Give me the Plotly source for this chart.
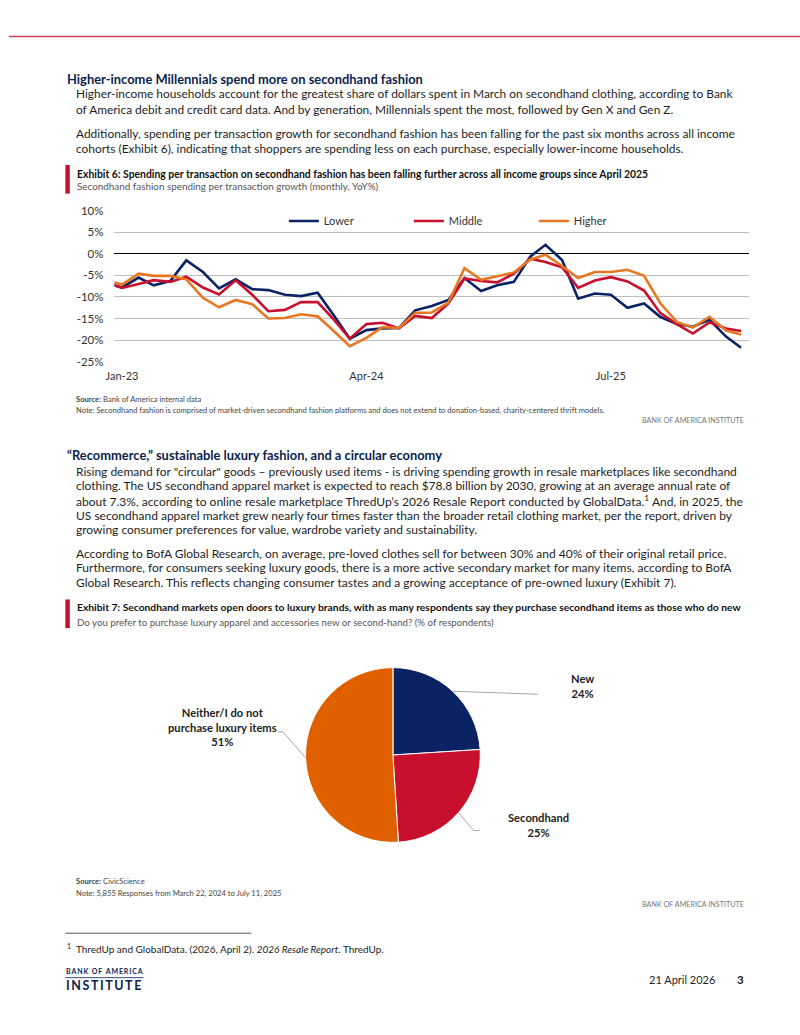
import numpy as np
import pandas as pd
import plotly.graph_objects as go

W, H = 800, 1035

# ---- Exhibit 6 data (monthly YoY %, Dec-22 .. Mar-26) ----
months = pd.date_range("2022-12-01", "2026-03-01", freq="MS")
lower = [-6.7, -7.8, -5.5, -7.3, -6.3, -1.5, -4.2, -8.0, -5.9, -8.2,
         -8.4, -9.5, -9.8, -9.0, -14.4, -19.7, -17.7, -17.3, -17.2, -13.1,
         -12.1, -10.7, -5.6, -8.6, -7.3, -6.5, -0.6, 2.1, -1.4, -10.4,
         -9.2, -9.5, -12.5, -11.5, -14.6, -16.3, -16.9, -15.3, -19.2, -21.8]
middle = [-6.6, -7.9, -7.0, -6.1, -6.5, -5.3, -7.8, -9.4, -6.1, -9.5,
          -13.3, -13.0, -11.2, -11.2, -15.4, -19.7, -16.3, -16.0, -17.3, -14.4,
          -14.9, -11.5, -5.7, -6.3, -6.6, -4.6, -1.1, -1.9, -3.1, -7.9,
          -6.2, -5.4, -6.4, -8.5, -13.7, -16.3, -18.5, -15.9, -17.3, -17.9]
higher = [-6.0, -7.1, -4.6, -5.1, -5.1, -5.9, -10.2, -12.4, -10.7, -11.7,
          -15.0, -14.9, -14.0, -14.5, -18.0, -21.4, -19.5, -17.0, -17.2, -13.7,
          -13.6, -11.3, -3.3, -6.0, -5.2, -4.3, -1.3, -0.2, -2.8, -5.6,
          -4.2, -4.2, -3.7, -5.1, -11.4, -15.8, -17.1, -14.6, -17.8, -18.7]
series_names = ["Lower", "Middle", "Higher"]
series_colors = ["#0B2265", "#C8102E", "#E87722"]
x_tickvals = ["2023-01-01", "2024-04-01", "2025-07-01"]
x_ticktext = ["Jan-23", "Apr-24", "Jul-25"]
y_tickvals = [10, 5, 0, -5, -10, -15, -20, -25]
y_ticktext = ["10%", "5%", "0%", "-5%", "-10%", "-15%", "-20%", "-25%"]

# ---- Exhibit 7 data ----
pie_labels = ["New", "Secondhand", "Neither/I do not<br>purchase luxury items"]
pie_values = [24, 25, 51]
pie_colors = ["#0B2265", "#C8102E", "#E06000"]

FONT = "Lato, Roboto, sans-serif"
NAVY = "#0B1F4F"


def px(x):
    return x / W


def py(y):
    return 1 - y / H


annotations = []


def text(x, y, s, size, color="#1E1E1E", xanchor="left"):
    annotations.append(dict(
        x=px(x), y=py(y), xref="paper", yref="paper", text=s, showarrow=False,
        xanchor=xanchor, yanchor="middle", align=xanchor if xanchor != "center" else "center",
        font=dict(size=size, family=FONT, color=color)))


def block(x, y0, step, lines, size, color="#1E1E1E"):
    for i, s in enumerate(lines):
        text(x, y0 + i * step, s, size, color)


fig = go.Figure()

for name, vals, col in zip(series_names, [lower, middle, higher], series_colors):
    fig.add_trace(go.Scatter(x=months, y=vals, name=name, mode="lines",
                             line=dict(color=col, width=2.6)))

# pie, clockwise from 12 o'clock
pie_cx, pie_cy, pie_r = 388.3, 757.5, 88.5
fig.add_trace(go.Pie(
    labels=pie_labels, values=pie_values, sort=False, direction="clockwise",
    rotation=0, textinfo="none", hoverinfo="label+percent", showlegend=False,
    marker=dict(colors=pie_colors, line=dict(color="white", width=1)),
    domain=dict(x=[px(pie_cx - pie_r), px(pie_cx + pie_r)],
                y=[py(pie_cy + pie_r), py(pie_cy - pie_r)])))

# ---- page text ----
text(57, 73, "<b>Higher-income Millennials spend more on secondhand fashion</b>", 12.9, NAVY)
block(66, 88, 15.5, [
    "Higher-income households account for the greatest share of dollars spent in March on secondhand clothing, according to Bank",
    "of America debit and credit card data. And by generation, Millennials spent the most, followed by Gen X and Gen Z.",
], 11.9)
block(66, 128, 15.5, [
    "Additionally, spending per transaction growth for secondhand fashion has been falling for the past six months across all income",
    "cohorts (Exhibit 6), indicating that shoppers are spending less on each purchase, especially lower-income households.",
], 11.9)
text(67, 169, "<b>Exhibit 6: Spending per transaction on secondhand fashion has been falling further across all income groups since April 2025</b>", 10.4, "#111111")
text(67, 181, "Secondhand fashion spending per transaction growth (monthly, YoY%)", 9.9, "#555555")

text(66, 397, "<b>Source:</b> Bank of America internal data", 7.6, "#444444")
text(66, 408, "Note: Secondhand fashion is comprised of market-driven secondhand fashion platforms and does not extend to donation-based, charity-centered thrift models.", 7.6, "#444444")
text(745, 419, "BANK OF AMERICA INSTITUTE", 7.2, "#777777", "right")

text(57, 454, "<b>“Recommerce,” sustainable luxury fashion, and a circular economy</b>", 12.9, NAVY)
block(66, 470, 14.9, [
    "Rising demand for \"circular\" goods – previously used items - is driving spending growth in resale marketplaces like secondhand",
    "clothing. The US secondhand apparel market is expected to reach $78.8 billion by 2030, growing at an average annual rate of",
    "about 7.3%, according to online resale marketplace ThredUp’s 2026 Resale Report conducted by GlobalData.<sup>1</sup> And, in 2025, the",
    "US secondhand apparel market grew nearly four times faster than the broader retail clothing market, per the report, driven by",
    "growing consumer preferences for value, wardrobe variety and sustainability.",
], 12)
block(66, 553, 14.9, [
    "According to BofA Global Research, on average, pre-loved clothes sell for between 30% and 40% of their original retail price.",
    "Furthermore, for consumers seeking luxury goods, there is a more active secondary market for many items, according to BofA",
    "Global Research. This reflects changing consumer tastes and a growing acceptance of pre-owned luxury (Exhibit 7).",
], 12)
text(67, 608, "<b>Exhibit 7: Secondhand markets open doors to luxury brands, with as many respondents say they purchase secondhand items as those who do new</b>", 10.3, "#111111")
text(67, 622.5, "Do you prefer to purchase luxury apparel and accessories new or second-hand? (% of respondents)", 9.7, "#555555")

text(66, 885, "<b>Source:</b> CivicScience", 7.6, "#444444")
text(66, 897, "Note: 5,855 Responses from March 22, 2024 to July 11, 2025", 7.6, "#444444")
text(745, 909, "BANK OF AMERICA INSTITUTE", 7.2, "#777777", "right")

text(57, 953, "<sup>1</sup>  ThredUp and GlobalData. (2026, April 2). <i>2026 Resale Report</i>. ThredUp.", 10)
text(56, 976, "<b>" + "\u2009".join("BANK OF AMERICA") + "</b>", 7, NAVY)
text(56, 991, "<b>" + "\u2009".join("INSTITUTE") + "</b>", 12.5, NAVY)
text(716, 985, "21 April 2026", 11, "#1E1E1E", "right")
text(745, 985, "<b>3</b>", 11.5, "#1E1E1E", "right")

# ---- pie labels with leader lines (anchored at slice mid-angles) ----
total = float(sum(pie_values))
mids = (np.cumsum(pie_values) - np.array(pie_values) / 2) / total * 2 * np.pi
label_pos = [(580, 687.5), (536, 828.5), (216, 729.5)]
leader_tail = [[(535, 696)], [(470, 834), (476, 834)], [(277, 734), (272, 734)]]
shapes = []
for lab, v, a, (lx, ly), tail in zip(pie_labels, pie_values, mids, label_pos, leader_tail):
    ex, ey = pie_cx + pie_r * np.sin(a), pie_cy - pie_r * np.cos(a)
    pts = [(ex, ey)] + tail
    path = "M " + " L ".join(f"{px(x):.5f},{py(y):.5f}" for x, y in pts)
    shapes.append(dict(type="path", path=path, xref="paper", yref="paper",
                       line=dict(color="#A6A6A6", width=1)))
    text(lx, ly, f"<b>{lab}<br>{v}%</b>", 11.2, "#222222", "center")

# decorative page rules and exhibit bars
shapes += [
    dict(type="line", xref="paper", yref="paper", x0=0, x1=1, y0=py(30), y1=py(30),
         line=dict(color="#D0424F", width=1.5)),
    dict(type="rect", xref="paper", yref="paper", x0=px(57), x1=px(61.5), y0=py(189), y1=py(160),
         fillcolor="#C8102E", line=dict(width=0)),
    dict(type="rect", xref="paper", yref="paper", x0=px(57), x1=px(61.5), y0=py(629), y1=py(600),
         fillcolor="#C8102E", line=dict(width=0)),
    dict(type="line", xref="paper", yref="paper", x0=px(57), x1=px(245), y0=py(938), y1=py(938),
         line=dict(color="#555555", width=1)),
    dict(type="line", xref="paper", yref="paper", x0=px(57), x1=px(136), y0=py(983), y1=py(983),
         line=dict(color=NAVY, width=0.8)),
]

fig.update_layout(
    width=W, height=H, autosize=False, margin=dict(l=0, r=0, t=0, b=0),
    paper_bgcolor="white", plot_bgcolor="white",
    font=dict(family=FONT, size=11, color="#333333"),
    annotations=annotations, shapes=shapes,
    xaxis=dict(domain=[px(106.7), px(748)], type="date",
               range=["2022-12-18", "2026-03-15"],
               tickvals=x_tickvals, ticktext=x_ticktext, showgrid=False,
               zeroline=False, showline=False, ticks="", ticklabelstandoff=6,
               tickfont=dict(size=11, color="#333333")),
    yaxis=dict(domain=[py(359.1), py(206.4)], range=[-25, 10],
               tickvals=y_tickvals, ticktext=y_ticktext, showgrid=True,
               gridcolor="#BFBFBF", gridwidth=1.3, zeroline=True,
               zerolinecolor="#000000", zerolinewidth=1.3, showline=False,
               ticks="", ticklabelstandoff=10,
               tickfont=dict(size=11.5, color="#333333")),
    legend=dict(orientation="h", x=px(278), y=py(202), xanchor="left", yanchor="top",
                entrywidth=80, entrywidthmode="pixels", bgcolor="rgba(0,0,0,0)",
                font=dict(size=11, family=FONT, color="#333333"),
                itemclick=False, itemdoubleclick=False),
)

fig.write_html("out.html", config={"displayModeBar": False, "responsive": False},
               post_script="document.body.style.margin='0px';")
